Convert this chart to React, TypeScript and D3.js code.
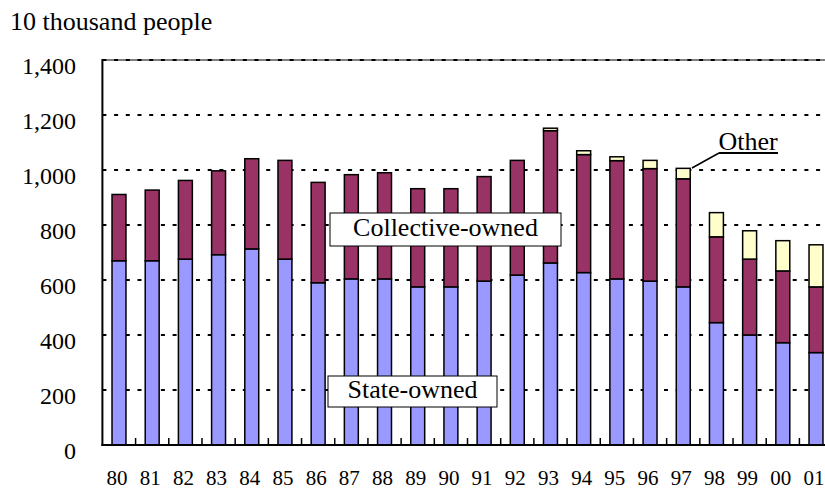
import React from "react";
import * as d3 from "d3";

const years = ["80","81","82","83","84","85","86","87","88","89","90","91","92","93","94","95","96","97","98","99","00","01"];
const stateOwned = [670,670,676,692,713,676,590,604,604,575,575,596,618,662,627,604,596,575,445,400,372,336];
const collectiveOwned = [241,257,286,305,328,359,365,379,386,357,357,380,417,481,429,430,409,393,312,276,261,239];
const other = [0,0,0,0,0,0,0,0,0,0,0,0,0,9,14,14,30,38,88,103,110,153];
const yTicks = [0,200,400,600,800,1000,1200,1400];
const seriesKeys = ["state","collective","other"];
const seriesColors = ["#9999FF","#993366","#FFFFCC"];

const W = 825, H = 492;
const FONT = "Liberation Serif, serif";

export default function App() {
  const x0 = 102.4, x1 = 832.6;
  const x = d3.scaleBand<string>().domain(years).range([x0, x1]).paddingInner(0.58).paddingOuter(0.29);
  const y = d3.scaleLinear().domain([0, 1400]).range([445, 60]);
  const step = x.step();

  const rows = years.map((yr, i) => ({ year: yr, state: stateOwned[i], collective: collectiveOwned[i], other: other[i] }));
  const stacked = d3.stack<any>().keys(seriesKeys)(rows);

  const boundaries = d3.range(1, years.length + 1).map(i => x0 + i * step);

  return (
    <svg width={W} height={H} style={{ position: "absolute", left: 0, top: 0, background: "#fff" }}>
      <rect x={0} y={0} width={W} height={H} fill="#fff" />
      <text x={10} y={30} fontFamily={FONT} fontSize={26} fill="#000">10 thousand people</text>

      {/* gridlines */}
      {yTicks.filter(t => t > 0).map(t => (
        <line key={t} x1={x0} x2={W} y1={y(t)} y2={y(t)} stroke="#000" strokeWidth={2} strokeDasharray="4 7.7" />
      ))}
      <line x1={x0} x2={W} y1={y(1400)} y2={y(1400)} stroke="#000" strokeWidth={1} />

      {/* bars */}
      {stacked.map((s, si) => (
        <g key={s.key}>
          {s.map((d, i) => (d[1] - d[0] > 0 ? (
            <rect key={i} x={x(years[i])} width={x.bandwidth()} y={y(d[1])} height={y(d[0]) - y(d[1])}
              fill={seriesColors[si]} stroke="#000" strokeWidth={1.5} />
          ) : null))}
        </g>
      ))}

      {/* axes */}
      <line x1={x0} x2={x0} y1={59} y2={446} stroke="#000" strokeWidth={2} />
      <line x1={x0 - 1} x2={W} y1={445} y2={445} stroke="#000" strokeWidth={2} />
      {boundaries.map((bx, i) => (
        <line key={i} x1={bx} x2={bx} y1={445} y2={438} stroke="#000" strokeWidth={1.5} />
      ))}
      {yTicks.map(t => (
        <text key={t} x={76} y={y(t) + 14} textAnchor="end" fontFamily={FONT} fontSize={24} fill="#000">
          {d3.format(",")(t)}
        </text>
      ))}
      {years.map(yr => (
        <text key={yr} x={(x(yr) as number) + x.bandwidth() / 2 - 2} y={485} textAnchor="middle" fontFamily={FONT} fontSize={21} fill="#000">{yr}</text>
      ))}

      {/* labels */}
      <rect x={330} y={213} width={231} height={33} fill="#fff" stroke="#000" strokeWidth={1} />
      <text x={445.5} y={236} textAnchor="middle" fontFamily={FONT} fontSize={26} fill="#000">Collective-owned</text>
      <rect x={328} y={376} width={169} height={31} fill="#fff" stroke="#000" strokeWidth={1} />
      <text x={412.5} y={398} textAnchor="middle" fontFamily={FONT} fontSize={26} fill="#000">State-owned</text>
      <text x={748} y={150} textAnchor="middle" fontFamily={FONT} fontSize={26} fill="#000">Other</text>
      <line x1={719} x2={778} y1={153} y2={153} stroke="#000" strokeWidth={2} />
      <line x1={719} x2={692} y1={153} y2={168} stroke="#000" strokeWidth={1.5} />
    </svg>
  );
}
